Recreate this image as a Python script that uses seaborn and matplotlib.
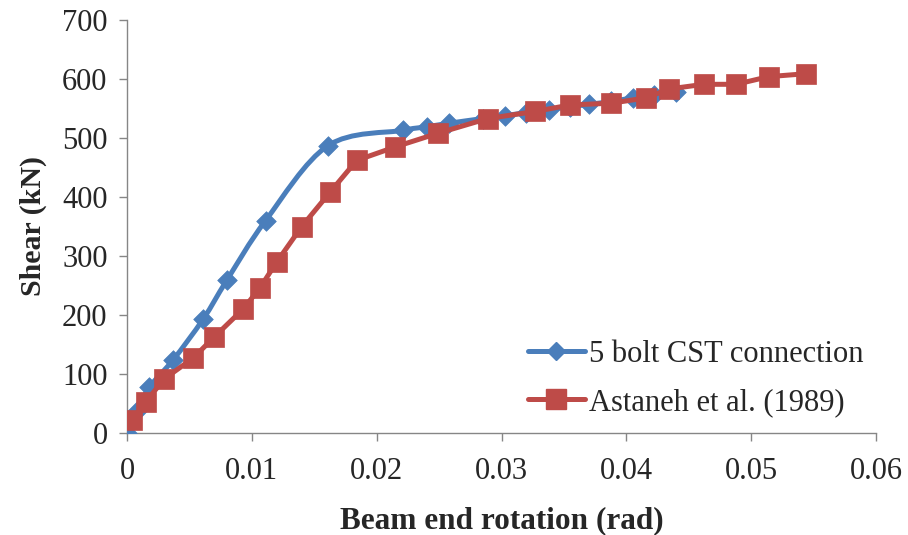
import numpy as np
import pandas as pd
import matplotlib
matplotlib.use("Agg")
import matplotlib.pyplot as plt
import seaborn as sns
from matplotlib.path import Path
from matplotlib.patches import PathPatch
from matplotlib.lines import Line2D

# ---- data ----
cst_rot = [0, 0.0008, 0.0018, 0.0037, 0.0061, 0.0080, 0.0111, 0.0161, 0.0221, 0.0240,
           0.0258, 0.0285, 0.0303, 0.0320, 0.0338, 0.0355, 0.0370, 0.0388, 0.0405,
           0.0422, 0.0440]
cst_shear = [0, 38, 78, 124, 193, 259, 360, 487, 513, 519, 525, 533, 538, 543, 548,
             553, 557, 562, 568, 573, 578]

ast_rot = [0.0004, 0.0015, 0.0030, 0.0053, 0.0070, 0.0093, 0.01065, 0.0120, 0.0140,
           0.0163, 0.0184, 0.0215, 0.0249, 0.0289, 0.0327, 0.0355, 0.0388, 0.0416,
           0.0434, 0.0462, 0.0488, 0.0514, 0.0544]
ast_shear = [22, 53, 92, 127, 163, 210, 246, 290, 350, 409, 462, 485, 508, 533, 545,
             556, 559, 568, 583, 591, 591, 604, 609]

series_names = ["5 bolt CST connection", "Astaneh et al. (1989)"]
x_ticks = [0, 0.01, 0.02, 0.03, 0.04, 0.05, 0.06]
x_tick_labels = ["0", "0.01", "0.02", "0.03", "0.04", "0.05", "0.06"]
y_ticks = [0, 100, 200, 300, 400, 500, 600, 700]
y_tick_labels = ["0", "100", "200", "300", "400", "500", "600", "700"]
x_label = "Beam end rotation (rad)"
y_label = "Shear (kN)"

BLUE = "#4A7EBB"
RED = "#BE4B48"
FS = 22

sns.set_style("white")
plt.rcParams["font.family"] = ["Liberation Serif", "DejaVu Serif"]

fig = plt.figure(figsize=(9.08, 5.35), dpi=100)
ax = fig.add_axes([127 / 908, 1 - 433 / 535, (876 - 127) / 908, (433 - 20) / 535])

# smooth (Excel-style smoothed line) path for the CST series
def smooth_path(xs, ys):
    P = np.column_stack([xs, ys]).astype(float)
    n = len(P)
    verts = [P[0]]
    codes = [Path.MOVETO]
    for i in range(n - 1):
        p0 = P[i - 1] if i > 0 else P[i]
        p1 = P[i]
        p2 = P[i + 1]
        p3 = P[i + 2] if i + 2 < n else P[i + 1]
        c1 = p1 + (p2 - p0) / 6.0
        c2 = p2 - (p3 - p1) / 6.0
        verts += [c1, c2, p2]
        codes += [Path.CURVE4] * 3
    return Path(verts, codes)

ax.add_patch(PathPatch(smooth_path(cst_rot, cst_shear), fill=False,
                       edgecolor=BLUE, lw=3.6, capstyle="round", joinstyle="round", zorder=2))
df_cst = pd.DataFrame({"rot": cst_rot, "shear": cst_shear})
sns.scatterplot(data=df_cst, x="rot", y="shear", marker="D", s=100, color=BLUE,
                edgecolor=BLUE, linewidth=0.5, ax=ax, zorder=3)

df_ast = pd.DataFrame({"rot": ast_rot, "shear": ast_shear})
sns.lineplot(data=df_ast, x="rot", y="shear", sort=False, estimator=None,
             color=RED, lw=3.6, marker="s", markersize=14.5, markeredgecolor=RED,
             markeredgewidth=0.5, ax=ax, zorder=4)

ax.set_xlim(0, 0.06)
ax.set_ylim(0, 700)
ax.set_xticks(x_ticks)
ax.set_xticklabels(x_tick_labels)
ax.set_yticks(y_ticks)
ax.set_yticklabels(y_tick_labels)
ax.tick_params(axis="both", direction="out", length=6, width=1, color="#868686",
               labelsize=FS, bottom=True, left=True)
ax.tick_params(axis="y", pad=8)
ax.tick_params(axis="x", pad=11)
for s in ["top", "right"]:
    ax.spines[s].set_visible(False)
for s in ["left", "bottom"]:
    ax.spines[s].set_color("#868686")
    ax.spines[s].set_linewidth(1)
ax.set_xlabel(x_label, fontsize=FS + 0.5, fontweight="bold", labelpad=15)
ax.set_ylabel(y_label, fontsize=FS - 0.5, fontweight="bold", labelpad=11)

handles = [
    Line2D([], [], color=BLUE, lw=3.6, marker="D", markersize=9.5, markeredgecolor=BLUE),
    Line2D([], [], color=RED, lw=3.6, marker="s", markersize=14.5, markeredgecolor=RED),
]
ax.legend(handles, series_names, loc="upper left",
          bbox_to_anchor=(528 / 908, 1 - 340 / 535), bbox_transform=fig.transFigure,
          frameon=False, fontsize=FS, handlelength=1.85, handletextpad=0.15,
          labelspacing=0.62, borderpad=0, borderaxespad=0)

fig.savefig("out.png", dpi=100)
